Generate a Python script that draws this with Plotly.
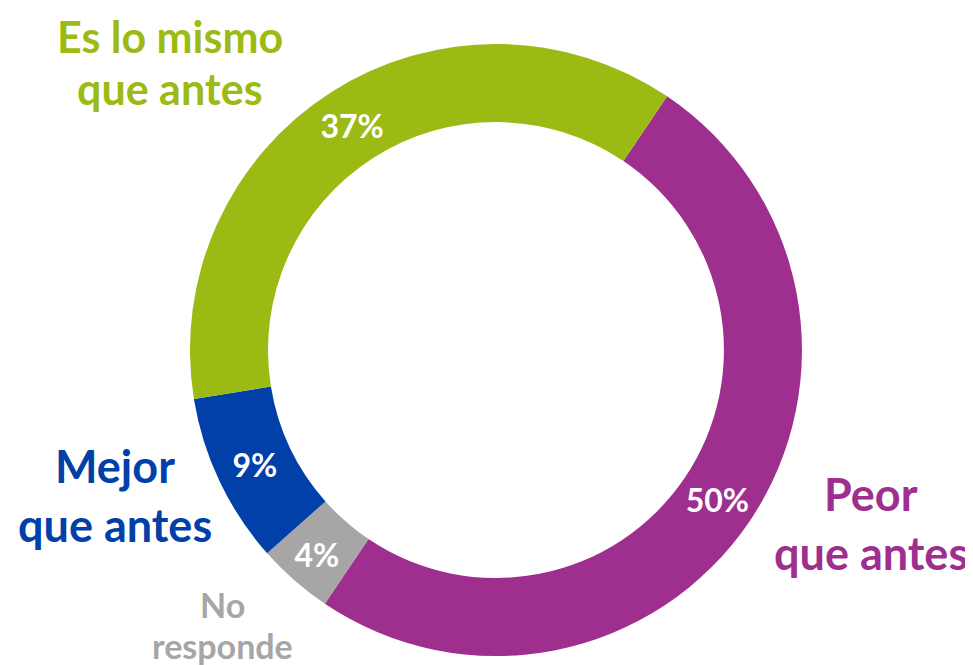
import plotly.graph_objects as go

# 데이터
categorias = ["Peor que antes", "No responde", "Mejor que antes", "Es lo mismo que antes"]
valores = [50, 4, 9, 37]
colores = ["#9E2F8F", "#A6A6A6", "#0040A8", "#9BBB14"]

# 바깥 라벨 (한 줄씩)
etiquetas = [["Es lo mismo", "que antes"], ["Mejor", "que antes"],
             ["Peor", "que antes"], ["No", "responde"]]
etiqueta_colores = ["#9BBB14", "#0040A8", "#9E2F8F", "#A6A6A6"]

FONT = "Lato, 'Open Sans', sans-serif"

fig = go.Figure()

fig.add_trace(go.Pie(
    labels=categorias,
    values=valores,
    marker=dict(colors=colores, line=dict(width=0)),
    hole=0.745,
    sort=False,
    direction="clockwise",
    rotation=34,
    texttemplate="<b>%{value}%</b>",
    textposition="inside",
    insidetextorientation="horizontal",
    textfont=dict(family=FONT, size=32, color="white"),
    domain=dict(x=[0.187, 0.816], y=[0.0255, 0.9458]),
    showlegend=False,
    hoverinfo="label+percent"
))

# 위치 (px): 중심 x, 첫 줄 y, 줄 간격, 글자 크기
pos = [(162, 28, 52, 43), (107, 458, 59, 45), (863, 486, 59, 45), (214, 596, 41, 34)]
for lineas, col, (px_, py_, dy, fs) in zip(etiquetas, etiqueta_colores, pos):
    for i, linea in enumerate(lineas):
        fig.add_annotation(
            x=px_ / 973, y=1 - (py_ + i * dy) / 665, xref="paper", yref="paper",
            text=f"<b>{linea}</b>", showarrow=False,
            xanchor="center", yanchor="middle",
            font=dict(family=FONT, size=fs, color=col)
        )

fig.update_layout(
    width=973,
    height=665,
    margin=dict(l=0, r=0, t=0, b=0),
    paper_bgcolor="white",
    plot_bgcolor="white"
)

fig.write_html("out.html")
